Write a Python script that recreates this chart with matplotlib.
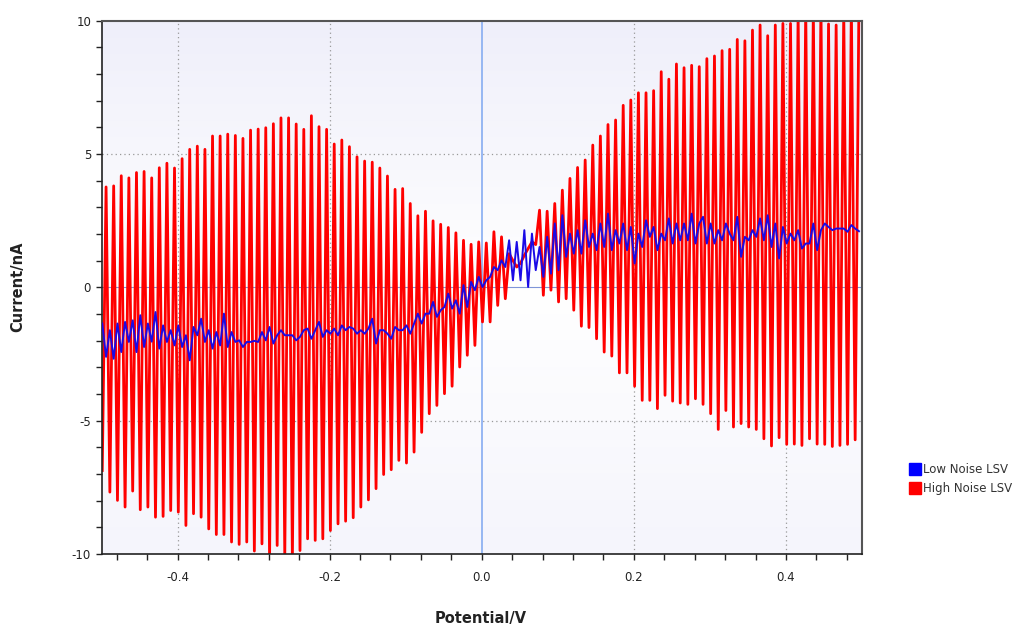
import numpy as np
import matplotlib
matplotlib.use("Agg")
import matplotlib.pyplot as plt
from matplotlib.colors import LinearSegmentedColormap
from matplotlib.lines import Line2D
from matplotlib.ticker import MultipleLocator

# high noise LSV: troughs and peaks of each oscillation (nA)
high_troughs = [-6.87, -7.68, -7.99, -8.24, -7.64, -8.34, -8.24, -8.62, -8.59, -8.37,
                -8.43, -8.93, -8.49, -8.62, -9.06, -9.27, -9.27, -9.55, -9.64, -9.55,
                -9.89, -9.62, -10.2, -9.68, -10.1, -10.2, -9.87, -9.43, -9.49, -9.43,
                -9.12, -8.87, -8.77, -8.64, -8.24, -7.97, -7.55, -7.02, -6.84, -6.49,
                -6.59, -6.18, -5.44, -4.74, -4.43, -3.99, -3.71, -2.99, -2.55, -2.18,
                -1.30, -1.30, -0.68, -0.43, 1.00, 0.90, 1.45, 1.60, -0.30, -0.11,
                -0.55, -0.43, -0.86, -1.46, -1.51, -1.93, -2.43, -2.58, -3.21, -3.21,
                -3.71, -4.24, -4.24, -4.55, -4.05, -4.27, -4.34, -4.39, -4.18, -4.39,
                -4.74, -5.33, -4.62, -5.24, -5.11, -5.24, -5.33, -5.68, -5.95, -5.64,
                -5.89, -5.88, -5.93, -5.68, -5.88, -5.89, -5.97, -5.93, -5.89, -5.72]
high_peaks = [3.76, 3.80, 4.18, 4.10, 4.30, 4.34, 4.10, 4.48, 4.65, 4.47,
              4.82, 5.17, 5.29, 5.17, 5.67, 5.67, 5.74, 5.69, 5.58, 5.89,
              5.93, 5.98, 6.13, 6.35, 6.35, 6.12, 5.92, 6.43, 6.02, 5.92,
              5.37, 5.52, 5.27, 4.89, 4.73, 4.69, 4.47, 4.17, 3.67, 3.70,
              3.14, 2.68, 2.85, 2.49, 2.36, 2.24, 2.04, 1.76, 1.61, 1.70,
              1.66, 2.08, 1.89, 1.26, 0.76, 1.20, 1.70, 2.89, 2.85, 3.14,
              3.64, 4.08, 4.49, 4.77, 5.33, 5.67, 6.10, 6.27, 6.82, 7.02,
              7.29, 7.29, 7.37, 8.08, 7.80, 8.37, 8.23, 8.32, 8.27, 8.57,
              8.67, 8.87, 8.92, 9.29, 9.24, 9.64, 9.83, 9.43, 9.83, 9.89,
              9.89, 10.3, 10.5, 10.4, 10.6, 9.87, 9.83, 10.4, 10.6, 10.8]

# low noise LSV (nA), one value per potential step
low_noise = [-1.36, -2.61, -1.61, -2.68, -1.36, -2.43, -1.30, -2.05, -1.24, -2.43,
             -1.05, -2.24, -1.36, -2.04, -0.93, -2.30, -1.43, -2.05, -1.61, -2.18,
             -1.43, -2.24, -1.80, -2.74, -1.49, -1.80, -1.18, -2.05, -1.61, -2.30,
             -1.68, -2.18, -0.99, -2.24, -1.68, -2.05, -1.99, -2.24, -2.05, -2.05,
             -2.01, -2.05, -1.68, -1.99, -1.49, -2.11, -1.80, -1.61, -1.80, -1.80,
             -1.80, -1.99, -1.86, -1.61, -1.55, -1.93, -1.61, -1.30, -1.86, -1.61,
             -1.74, -1.55, -1.80, -1.43, -1.61, -1.49, -1.55, -1.74, -1.61, -1.74,
             -1.55, -1.18, -2.11, -1.61, -1.61, -1.74, -1.93, -1.49, -1.61, -1.61,
             -1.43, -1.74, -1.36, -0.99, -1.36, -0.99, -0.99, -0.55, -1.11, -0.86,
             -0.74, -0.24, -0.80, -0.49, -0.99, 0.08, -0.74, 0.20, -0.11, 0.39,
             0.01, 0.26, 0.39, 0.76, 0.64, 1.01, 0.76, 1.76, 0.26, 1.70,
             0.26, 2.14, 0.01, 2.01, 0.64, 1.51, 0.39, 1.89, 0.51, 2.39,
             0.64, 2.70, 1.14, 2.01, 1.26, 2.14, 1.26, 2.51, 1.51, 2.01,
             1.39, 2.39, 1.51, 2.76, 1.39, 2.14, 1.64, 2.39, 1.39, 2.26,
             0.89, 2.01, 1.51, 2.51, 1.89, 2.26, 1.39, 2.01, 1.76, 2.58,
             1.64, 2.39, 1.76, 2.39, 1.76, 2.76, 1.64, 2.39, 2.64, 1.64,
             2.39, 1.64, 2.14, 1.76, 2.39, 2.01, 1.76, 2.64, 1.14, 1.89,
             1.76, 2.14, 1.89, 2.58, 1.76, 2.70, 1.51, 2.39, 1.08, 2.26,
             1.64, 2.01, 1.76, 2.14, 1.45, 1.64, 1.64, 2.39, 1.39, 2.14,
             2.39, 2.26, 2.14, 2.20, 2.20, 2.20, 2.08, 2.33, 2.20, 2.10]

# potential sweep, 5 mV steps
potential = -0.499 + 0.005 * np.arange(200)

high_noise = np.empty(200)
high_noise[0::2] = high_troughs
high_noise[1::2] = high_peaks

fig = plt.figure(figsize=(10.19, 6.25), dpi=100)
ax = fig.add_axes([101.5 / 1019, 1 - 554 / 625, 760.5 / 1019, 533.5 / 625])

# soft lavender-white-lavender background
cmap = LinearSegmentedColormap.from_list("bg", ["#f5f5fc", "#ffffff", "#efeffa"])
grad = np.linspace(0, 1, 256).reshape(-1, 1)
ax.imshow(grad, cmap=cmap, extent=[0, 1, 0, 1], transform=ax.transAxes,
          aspect="auto", origin="lower", zorder=0)

ax.set_xlim(-0.5, 0.5)
ax.set_ylim(-10, 10)
ax.xaxis.set_major_locator(MultipleLocator(0.2))
ax.xaxis.set_minor_locator(MultipleLocator(0.04))
ax.yaxis.set_major_locator(MultipleLocator(5))
ax.yaxis.set_minor_locator(MultipleLocator(1))
ax.set_xticks([-0.4, -0.2, 0.0, 0.2, 0.4])
ax.set_xticklabels(["-0.4", "-0.2", "0.0", "0.2", "0.4"])
ax.set_yticks([-10, -5, 0, 5, 10])
ax.set_yticklabels(["-10", "-5", "0", "5", "10"])
ax.tick_params(which="both", direction="out", length=4, width=1, colors="#222222",
               labelsize=8.5)
ax.tick_params(axis="x", pad=8)

for v in [-0.4, -0.2, 0.2, 0.4]:
    ax.axvline(v, color="#999999", lw=0.9, ls=(0, (1, 2.5)), zorder=1)
for v in [-5, 5]:
    ax.axhline(v, color="#999999", lw=0.9, ls=(0, (1, 2.5)), zorder=1)
ax.axvline(0, color="#8fb2f2", lw=1.3, zorder=1)
ax.axhline(0, color="#7f95d8", lw=0.8, zorder=1)

ax.plot(potential, high_noise, color="#ff0000", lw=2.0, zorder=2)
ax.plot(potential, low_noise, color="#1a0ae6", lw=1.4, zorder=3)

for side in ["top", "right"]:
    ax.spines[side].set_color("#555555")
    ax.spines[side].set_linewidth(1.5)
for side in ["left", "bottom"]:
    ax.spines[side].set_color("#222222")
    ax.spines[side].set_linewidth(1.2)

fig.text(481 / 1019, 1 - 618 / 625, "Potential/V", ha="center", va="center",
         fontsize=10.5, fontweight="bold", color="#222222")
fig.text(18 / 1019, 1 - 287 / 625, "Current/nA", ha="center", va="center",
         rotation=90, fontsize=10.5, fontweight="bold", color="#222222")

handles = [Line2D([], [], marker="s", ls="none", color="#0000ff", markersize=9),
           Line2D([], [], marker="s", ls="none", color="#ff0000", markersize=9)]
fig.legend(handles, ["Low Noise LSV", "High Noise LSV"], loc="center left",
           bbox_to_anchor=(898 / 1019, 1 - 479 / 625), frameon=False,
           fontsize=8.5, handletextpad=0.2, labelspacing=0.5, handlelength=1.0,
           labelcolor="#333333")

fig.savefig("out.png", dpi=100)
